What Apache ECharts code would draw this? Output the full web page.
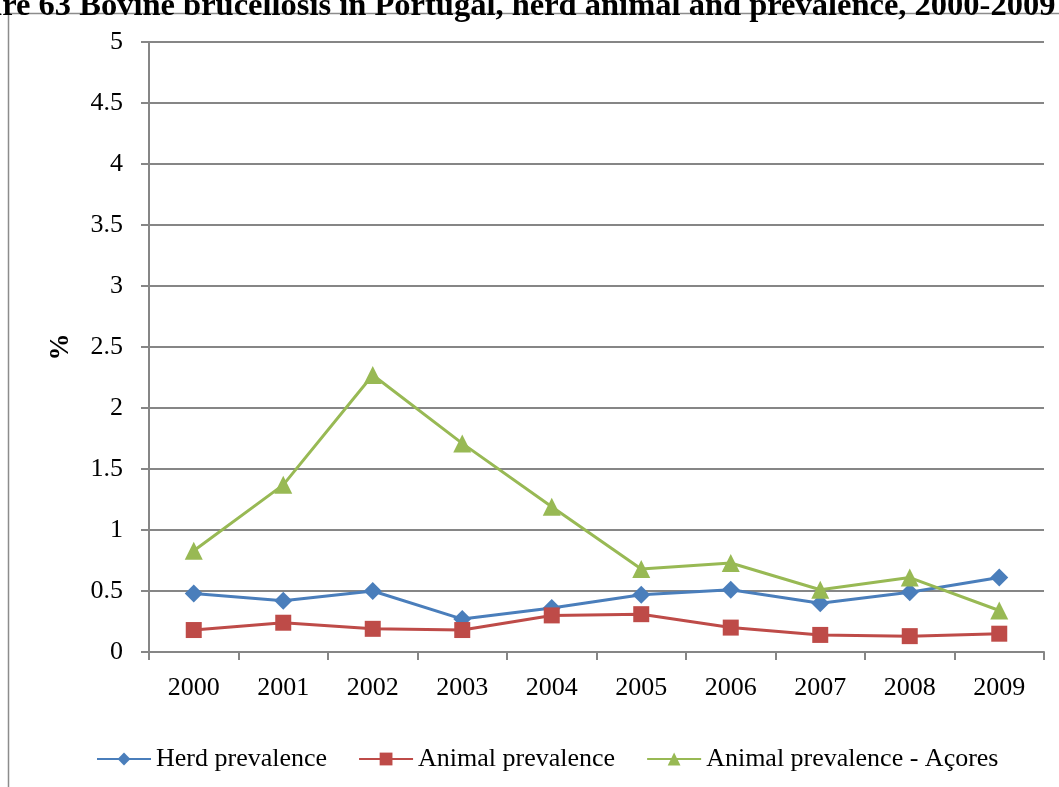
<!DOCTYPE html>
<html>
<head>
<meta charset="utf-8">
<script src="https://cdn.jsdelivr.net/npm/echarts@6/dist/echarts.min.js"></script>
<style>
  html, body { margin: 0; padding: 0; background: #fff; }
  #main { width: 1059px; height: 787px; }
</style>
</head>
<body>
<div id="main"></div>
<script>
// data
var years = ['2000', '2001', '2002', '2003', '2004', '2005', '2006', '2007', '2008', '2009'];
var herdPrev = [0.48, 0.42, 0.50, 0.27, 0.36, 0.47, 0.51, 0.40, 0.49, 0.61];
var animalPrev = [0.18, 0.24, 0.19, 0.18, 0.30, 0.31, 0.20, 0.14, 0.13, 0.15];
var acoresPrev = [0.83, 1.37, 2.27, 1.71, 1.19, 0.68, 0.73, 0.51, 0.61, 0.34];
var seriesNames = ['Herd prevalence', 'Animal prevalence', 'Animal prevalence - Açores'];

var font = 'Liberation Serif, Times New Roman, serif';

function line(name, data, color, symbol, size) {
    return {
        name: name,
        type: 'line',
        data: data,
        symbol: symbol,
        symbolSize: size,
        showSymbol: true,
        lineStyle: { color: color, width: 3 },
        itemStyle: { color: color },
        animation: false
    };
}

var option = {
    backgroundColor: '#fff',
    title: {
        text: 'Figure 63 Bovine brucellosis in Portugal, herd animal and prevalence, 2000-2009',
        left: -66,
        top: -15,
        textStyle: { fontFamily: font, fontSize: 32.5, fontWeight: 'bold', color: '#000' }
    },
    graphic: [{
        type: 'rect',
        shape: { x: 8.5, y: 13.5, width: 1100, height: 800 },
        style: { fill: null, stroke: '#8c8c8c', lineWidth: 1.5 },
        z: -1
    }],
    legend: {
        data: seriesNames,
        bottom: 10,
        left: 91,
        itemWidth: 54,
        itemHeight: 16,
        itemGap: 31,
        textStyle: { fontFamily: font, fontSize: 26, color: '#000' }
    },
    grid: { left: 149, right: 15, top: 42, bottom: 135 },
    xAxis: {
        type: 'category',
        data: years,
        boundaryGap: true,
        axisLine: { lineStyle: { color: '#868686', width: 2 } },
        axisTick: { show: true, length: 8, lineStyle: { color: '#868686', width: 2 } },
        axisLabel: { fontFamily: font, fontSize: 26, color: '#000', margin: 23 }
    },
    yAxis: {
        type: 'value',
        min: 0,
        max: 5,
        interval: 0.5,
        name: '%',
        nameLocation: 'middle',
        nameGap: 74,
        nameTextStyle: { fontFamily: font, fontSize: 27, fontWeight: 'bold', color: '#000' },
        axisLine: { show: true, lineStyle: { color: '#868686', width: 2 } },
        axisTick: { show: true, length: 8, lineStyle: { color: '#868686', width: 2 } },
        axisLabel: { fontFamily: font, fontSize: 26, color: '#000', margin: 26 },
        splitLine: { show: true, lineStyle: { color: '#868686', width: 2 } }
    },
    series: [
        line(seriesNames[0], herdPrev, '#4A7EBB', 'diamond', 18),
        line(seriesNames[1], animalPrev, '#BE4B48', 'rect', 16),
        line(seriesNames[2], acoresPrev, '#98B954', 'triangle', 18)
    ]
};

var chart = echarts.init(document.getElementById('main'), null, { renderer: 'canvas' });
chart.setOption(option);
</script>
</body>
</html>
